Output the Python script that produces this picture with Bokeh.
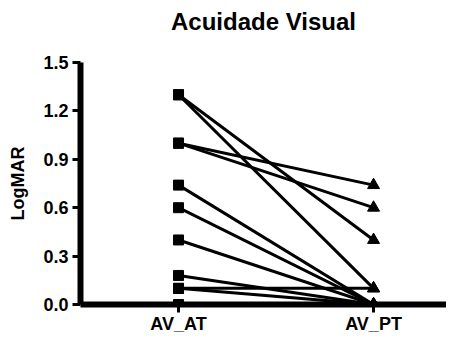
from bokeh.plotting import figure
from bokeh.models import Range1d, FixedTicker, Title
from bokeh.embed import file_html
from bokeh.resources import INLINE

categories = ["AV_AT", "AV_PT"]
av_at = [1.3, 1.3, 1.0, 1.0, 0.74, 0.6, 0.4, 0.18, 0.1, 0.1, 0.0]
av_pt = [0.1, 0.4, 0.74, 0.6, 0.0, 0.0, 0.0, 0.0, 0.1, 0.0, 0.0]
y_ticks = [0.0, 0.3, 0.6, 0.9, 1.2, 1.5]

FONT = "Liberation Sans"

p = figure(width=446, height=336, output_backend="svg", toolbar_location=None,
           x_range=Range1d(-0.5026, 1.374), y_range=Range1d(0.0, 1.5),
           min_border_left=80, min_border_right=0, min_border_top=62, min_border_bottom=26)
p.outline_line_color = None
p.xgrid.visible = False
p.ygrid.visible = False
p.background_fill_color = "white"

p.title.text = "Acuidade Visual"
p.title.align = "center"
p.title.text_font = FONT
p.title.text_font_size = "24px"
p.title.text_font_style = "bold"
p.title.text_color = "black"
# empty spacer between the title and the plot frame
p.add_layout(Title(text=" ", text_font_size="10px"), "above")

xs = [[0, 1] for _ in av_at]
ys = [[a, b] for a, b in zip(av_at, av_pt)]
p.multi_line(xs, ys, line_color="black", line_width=3)
p.scatter([0] * len(av_at), av_at, marker="square", size=10, color="black")
p.scatter([1] * len(av_pt), av_pt, marker="triangle", size=12, color="black")

for ax in list(p.xaxis) + list(p.yaxis):
    ax.axis_line_width = 6
    ax.axis_line_color = "black"
    ax.major_tick_line_width = 3
    ax.major_tick_line_color = "black"
    ax.major_tick_out = 8
    ax.major_tick_in = 0
    ax.minor_tick_line_color = None
    ax.major_label_text_font = FONT
    ax.major_label_text_font_size = "18px"
    ax.major_label_text_font_style = "bold"
    ax.major_label_text_color = "black"

p.xaxis.ticker = FixedTicker(ticks=[0, 1])
p.xaxis.major_label_overrides = {0: categories[0], 1: categories[1]}
p.xaxis.major_label_standoff = 1

p.yaxis.ticker = FixedTicker(ticks=y_ticks)
p.yaxis.major_label_overrides = {t: f"{t:.1f}" for t in y_ticks}
p.yaxis.major_label_standoff = 4
p.yaxis.axis_label = "LogMAR"
p.yaxis.axis_label_text_font = FONT
p.yaxis.axis_label_text_font_size = "18px"
p.yaxis.axis_label_text_font_style = "bold"
p.yaxis.axis_label_text_color = "black"
p.yaxis.axis_label_standoff = 12

open("out.html", "w").write(file_html(p, INLINE))
